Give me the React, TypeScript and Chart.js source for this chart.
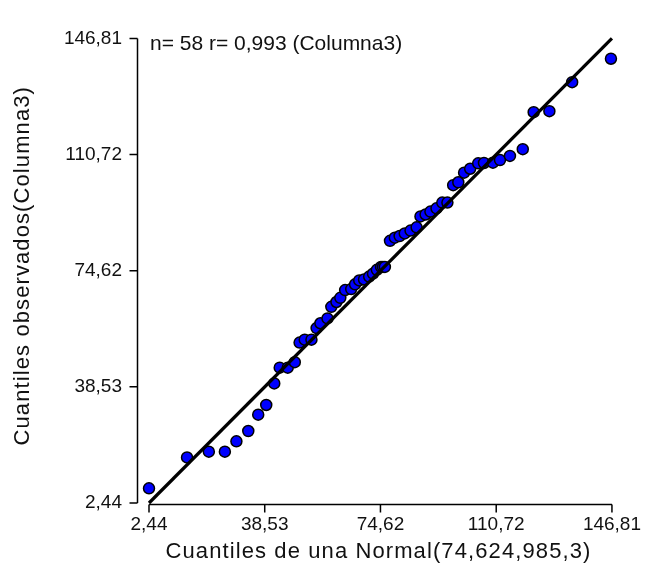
import React, { useEffect, useRef } from 'react';
import { Chart, registerables } from 'chart.js';

Chart.register(...registerables);

const TICK_VALUES = [2.44, 38.53, 74.62, 110.72, 146.81];
const TICK_LABELS = ['2,44', '38,53', '74,62', '110,72', '146,81'];

const X_QUANTILES = [
  2.44, 14.3, 21.1, 26.1, 29.7, 33.4, 36.5, 39.0, 41.5, 43.2,
  45.7, 47.9, 49.4, 51.0, 53.1, 54.7, 55.9, 58.1, 59.3, 60.9,
  62.1, 63.6, 65.5, 66.7, 68.0, 69.5, 71.1, 72.3, 73.5, 74.8,
  75.4, 76.0, 77.6, 79.1, 80.6, 82.2, 84.0, 85.9, 87.1, 88.7,
  90.2, 92.1, 93.9, 95.5, 97.3, 98.9, 100.7, 102.6, 105.1, 106.9,
  109.7, 111.9, 115.0, 119.0, 122.4, 127.3, 134.4, 146.5,
];

const Y_OBSERVED = [
  7.0, 16.6, 18.4, 18.4, 21.6, 24.8, 29.9, 32.9, 39.6, 44.5,
  44.5, 46.2, 52.3, 53.2, 53.2, 56.8, 58.3, 59.8, 63.4, 64.9,
  66.2, 68.6, 68.9, 70.4, 71.6, 71.9, 72.8, 73.7, 74.9, 75.8,
  75.8, 75.8, 83.9, 84.9, 85.4, 86.2, 87.1, 88.1, 91.5, 92.1,
  93.0, 94.0, 95.8, 95.8, 101.2, 102.1, 105.1, 106.3, 108.0, 108.1,
  108.2, 109.0, 110.3, 112.4, 123.9, 124.2, 133.2, 140.5,
];

const LINE_X = [2.44, 146.81];
const LINE_Y = [2.44, 146.81];

const X_TITLE = 'Cuantiles de una Normal(74,624,985,3)';
const Y_TITLE = 'Cuantiles observados(Columna3)';
const NOTE = 'n= 58 r= 0,993 (Columna3)';

const FONT = "'Liberation Sans', Arial, sans-serif";
const TEXT_COLOR = '#111';

const axesPlugin = {
  id: 'offsetAxes',
  afterDraw(chart: any) {
    const { ctx, chartArea, scales } = chart;
    const xs = scales.x;
    const ys = scales.y;
    const first = TICK_VALUES[0];
    const last = TICK_VALUES[TICK_VALUES.length - 1];
    ctx.save();
    ctx.strokeStyle = '#000';
    ctx.lineWidth = 1.5;
    ctx.lineCap = 'butt';
    // y axis (offset to the left)
    const yAxisX = Math.round(chartArea.left - 12) + 0.5;
    ctx.beginPath();
    ctx.moveTo(yAxisX, ys.getPixelForValue(last));
    ctx.lineTo(yAxisX, ys.getPixelForValue(first));
    TICK_VALUES.forEach((v) => {
      const py = ys.getPixelForValue(v);
      ctx.moveTo(yAxisX - 8, py);
      ctx.lineTo(yAxisX, py);
    });
    ctx.stroke();
    // x axis
    const xAxisY = Math.round(chartArea.bottom + 1) + 0.5;
    ctx.beginPath();
    ctx.moveTo(xs.getPixelForValue(first), xAxisY);
    ctx.lineTo(xs.getPixelForValue(last), xAxisY);
    TICK_VALUES.forEach((v) => {
      const px = xs.getPixelForValue(v);
      ctx.moveTo(px, xAxisY);
      ctx.lineTo(px, xAxisY + 8);
    });
    ctx.stroke();

    ctx.fillStyle = TEXT_COLOR;
    ctx.textBaseline = 'middle';
    // annotation
    ctx.font = `21px ${FONT}`;
    ctx.textAlign = 'left';
    ctx.fillText(NOTE, chartArea.left + 1, chartArea.top + 6);

    // axis titles
    ctx.font = `22px ${FONT}`;
    ctx.textAlign = 'center';
    try {
      (ctx as any).letterSpacing = '1.1px';
    } catch (e) {}
    const xMid = (chartArea.left + chartArea.right) / 2;
    ctx.fillText(X_TITLE, xMid - 2, 552);
    ctx.save();
    ctx.translate(23, (chartArea.top + chartArea.bottom) / 2 - 5);
    ctx.rotate(-Math.PI / 2);
    ctx.fillText(Y_TITLE, 0, 0);
    ctx.restore();
    try {
      (ctx as any).letterSpacing = '0px';
    } catch (e) {}
    ctx.restore();
  },
};

function App() {
  const canvasRef = useRef<HTMLCanvasElement | null>(null);

  useEffect(() => {
    const canvas = canvasRef.current;
    if (!canvas) return;
    const points = X_QUANTILES.map((x, i) => ({ x, y: Y_OBSERVED[i] }));
    const line = LINE_X.map((x, i) => ({ x, y: LINE_Y[i] }));
    const tickFont = { family: FONT, size: 19 };
    const setTicks = (scale: any) => {
      scale.ticks = TICK_VALUES.map((v) => ({ value: v }));
    };
    const chart = new Chart(canvas, {
      type: 'scatter',
      data: {
        datasets: [
          {
            type: 'scatter',
            data: points,
            backgroundColor: '#0000ff',
            borderColor: '#000',
            borderWidth: 1.5,
            pointRadius: 5.5,
            pointHoverRadius: 5.5,
            clip: false,
            order: 1,
          } as any,
          {
            type: 'line',
            data: line,
            borderColor: '#000',
            borderWidth: 3.2,
            pointRadius: 0,
            fill: false,
            clip: false,
            order: 0,
          } as any,
        ],
      },
      plugins: [axesPlugin],
      options: {
        animation: false,
        responsive: false,
        events: [],
        layout: { padding: { left: 0, top: 25, right: 35, bottom: 0 } },
        plugins: {
          legend: { display: false },
          tooltip: { enabled: false },
          title: { display: false },
        },
        scales: {
          x: {
            type: 'linear',
            min: TICK_VALUES[0],
            max: TICK_VALUES[TICK_VALUES.length - 1],
            afterBuildTicks: setTicks,
            afterFit: (scale: any) => {
              scale.height = 76;
            },
            grid: { display: false, drawTicks: false },
            border: { display: false },
            ticks: {
              autoSkip: false,
              maxRotation: 0,
              padding: 10,
              color: TEXT_COLOR,
              font: tickFont,
              callback: (_v: any, i: number) => TICK_LABELS[i],
            },
            title: { display: false },
          },
          y: {
            type: 'linear',
            min: TICK_VALUES[0],
            max: TICK_VALUES[TICK_VALUES.length - 1],
            afterBuildTicks: setTicks,
            afterFit: (scale: any) => {
              scale.width = 149;
            },
            grid: { display: false, drawTicks: false },
            border: { display: false },
            ticks: {
              autoSkip: false,
              padding: 27,
              color: TEXT_COLOR,
              font: tickFont,
              callback: (_v: any, i: number) => TICK_LABELS[i],
            },
            title: { display: false },
          },
        },
      },
    } as any);
    return () => chart.destroy();
  }, []);

  return (
    <div style={{ position: 'fixed', left: 0, top: 0, width: 651, height: 579, background: '#fff' }}>
      <canvas ref={canvasRef} width={651} height={579} style={{ width: 651, height: 579, display: 'block' }} />
    </div>
  );
}

export default App;
